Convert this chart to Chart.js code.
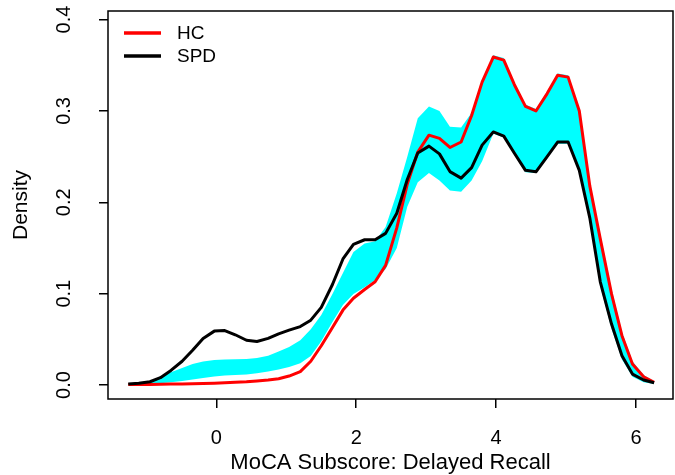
<!DOCTYPE html>
<html lang="en">
<head>
<meta charset="UTF-8">
<title>Density</title>
<script src="https://cdn.jsdelivr.net/npm/chart.js"></script>
<style>
    html, body { margin: 0; padding: 0; background: #ffffff; }
    #wrap { width: 675px; height: 475px; }
</style>
</head>
<body>
<div id="wrap"><canvas id="densityChart" width="675" height="475"></canvas></div>
<script>
    // density grid (x) and curves
    const xGrid = [-1.26, -1.11, -0.95, -0.80, -0.65, -0.49, -0.34, -0.19, -0.03, 0.12,
        0.27, 0.43, 0.58, 0.74, 0.89, 1.04, 1.20, 1.35, 1.50, 1.66,
        1.81, 1.96, 2.12, 2.27, 2.42, 2.58, 2.73, 2.88, 3.04, 3.19,
        3.34, 3.50, 3.65, 3.80, 3.96, 4.11, 4.26, 4.42, 4.57, 4.73,
        4.88, 5.03, 5.19, 5.34, 5.49, 5.65, 5.80, 5.95, 6.11, 6.26];

    const hcDensity = [0.0005, 0.0006, 0.0007, 0.0008, 0.001, 0.0011, 0.0013, 0.0016, 0.002, 0.0024,
        0.003, 0.0036, 0.0045, 0.0055, 0.0068, 0.0098, 0.0146, 0.026, 0.043, 0.063,
        0.082, 0.095, 0.1045, 0.113, 0.131, 0.172, 0.22, 0.255, 0.2735, 0.27,
        0.26, 0.266, 0.295, 0.3315, 0.359, 0.3556, 0.329, 0.305, 0.300, 0.319,
        0.339, 0.337, 0.300, 0.218, 0.16, 0.10, 0.054, 0.023, 0.009, 0.003];

    const spdDensity = [0.001, 0.002, 0.0036, 0.008, 0.016, 0.026, 0.038, 0.051, 0.059, 0.0596,
        0.055, 0.049, 0.0476, 0.051, 0.056, 0.060, 0.064, 0.071, 0.085, 0.11,
        0.138, 0.154, 0.159, 0.159, 0.166, 0.188, 0.225, 0.254, 0.2615, 0.253,
        0.2336, 0.2265, 0.238, 0.2626, 0.277, 0.2724, 0.254, 0.235, 0.2334, 0.25,
        0.266, 0.266, 0.235, 0.183, 0.113, 0.067, 0.032, 0.012, 0.0055, 0.0025];

    const bandUpper = [0.001, 0.002, 0.0045, 0.0088, 0.014, 0.0186, 0.023, 0.0257, 0.0274, 0.0279,
        0.0281, 0.0284, 0.0295, 0.032, 0.0367, 0.0416, 0.049, 0.061, 0.0766, 0.0996,
        0.1225, 0.1455, 0.155, 0.1575, 0.173, 0.21, 0.25, 0.292, 0.305, 0.30,
        0.2826, 0.282, 0.298, 0.333, 0.361, 0.358, 0.331, 0.307, 0.302, 0.321,
        0.341, 0.339, 0.302, 0.222, 0.165, 0.105, 0.058, 0.026, 0.011, 0.004];

    const bandLower = [0.0003, 0.0005, 0.001, 0.002, 0.003, 0.0045, 0.006, 0.0077, 0.0093, 0.0104,
        0.011, 0.0115, 0.013, 0.0148, 0.017, 0.0197, 0.0237, 0.0317, 0.048, 0.069,
        0.0875, 0.0996, 0.107, 0.115, 0.127, 0.15, 0.195, 0.222, 0.232, 0.224,
        0.213, 0.2115, 0.224, 0.245, 0.275, 0.271, 0.252, 0.233, 0.232, 0.248,
        0.264, 0.264, 0.233, 0.178, 0.108, 0.062, 0.028, 0.009, 0.003, 0.001];

    const xTicks = [0, 2, 4, 6];
    const yTicks = [0, 0.1, 0.2, 0.3, 0.4];
    const yTickLabels = ["0.0", "0.1", "0.2", "0.3", "0.4"];
    const seriesNames = ["HC", "SPD"];

    const FONT = "'Liberation Sans', Arial, sans-serif";

    function toPoints(ys) {
        return xGrid.map((x, i) => ({ x: x, y: ys[i] }));
    }

    // box, rotated y labels, axis titles and legend, R style
    const rDecor = {
        id: 'rDecor',
        afterDraw(chart) {
            const ctx = chart.ctx;
            const a = chart.chartArea;
            const ys = chart.scales.y;
            ctx.save();
            ctx.strokeStyle = '#000';
            ctx.lineWidth = 1.5;
            ctx.strokeRect(a.left, a.top, a.right - a.left, a.bottom - a.top);

            ctx.fillStyle = '#000';
            ctx.font = '20px ' + FONT;
            ctx.textAlign = 'center';
            ctx.textBaseline = 'middle';
            yTicks.forEach((v, i) => {
                ctx.save();
                ctx.translate(64, ys.getPixelForValue(v));
                ctx.rotate(-Math.PI / 2);
                ctx.fillText(yTickLabels[i], 0, 0);
                ctx.restore();
            });

            ctx.font = '21px ' + FONT;
            ctx.save();
            ctx.translate(21, (a.top + a.bottom) / 2);
            ctx.rotate(-Math.PI / 2);
            ctx.fillText('Density', 0, 0);
            ctx.restore();

            ctx.font = '22px ' + FONT;
            ctx.fillText('MoCA Subscore: Delayed Recall', (a.left + a.right) / 2, 463);

            // legend
            const colors = ['#ff0000', '#000000'];
            ctx.font = '19px ' + FONT;
            ctx.textAlign = 'left';
            ctx.lineWidth = 3.5;
            seriesNames.forEach((name, i) => {
                const y = 33 + i * 23;
                ctx.strokeStyle = colors[i];
                ctx.beginPath();
                ctx.moveTo(124, y);
                ctx.lineTo(161, y);
                ctx.stroke();
                ctx.fillText(name, 177, y + 1);
            });
            ctx.restore();
        }
    };

    new Chart(document.getElementById('densityChart'), {
        type: 'line',
        data: {
            datasets: [
                {
                    label: 'upper',
                    data: toPoints(bandUpper),
                    borderWidth: 0,
                    borderColor: 'rgba(0,0,0,0)',
                    backgroundColor: '#00ffff',
                    fill: '+1',
                    pointRadius: 0,
                    order: 3
                },
                {
                    label: 'lower',
                    data: toPoints(bandLower),
                    borderWidth: 0,
                    borderColor: 'rgba(0,0,0,0)',
                    fill: false,
                    pointRadius: 0,
                    order: 4
                },
                {
                    label: seriesNames[0],
                    data: toPoints(hcDensity),
                    borderColor: '#ff0000',
                    borderWidth: 3,
                    fill: false,
                    pointRadius: 0,
                    order: 2
                },
                {
                    label: seriesNames[1],
                    data: toPoints(spdDensity),
                    borderColor: '#000000',
                    borderWidth: 3,
                    fill: false,
                    pointRadius: 0,
                    order: 1
                }
            ]
        },
        options: {
            responsive: false,
            animation: false,
            events: [],
            layout: { padding: { top: 11, right: 2, left: 0, bottom: 0 } },
            elements: { line: { tension: 0, borderJoinStyle: 'round' } },
            plugins: {
                legend: { display: false },
                tooltip: { enabled: false }
            },
            scales: {
                x: {
                    type: 'linear',
                    min: -1.55,
                    max: 6.53,
                    afterFit(scale) { scale.height = 76; },
                    afterBuildTicks(scale) { scale.ticks = xTicks.map(v => ({ value: v })); },
                    grid: {
                        drawOnChartArea: false,
                        drawTicks: true,
                        tickLength: 9,
                        color: '#000',
                        lineWidth: 1.5
                    },
                    border: { display: false },
                    ticks: {
                        color: '#000',
                        padding: 18,
                        maxRotation: 0,
                        font: { family: FONT, size: 20 }
                    }
                },
                y: {
                    type: 'linear',
                    min: -0.0153,
                    max: 0.4094,
                    afterFit(scale) { scale.width = 108; },
                    afterBuildTicks(scale) { scale.ticks = yTicks.map(v => ({ value: v })); },
                    grid: {
                        drawOnChartArea: false,
                        drawTicks: true,
                        tickLength: 9,
                        color: '#000',
                        lineWidth: 1.5
                    },
                    border: { display: false },
                    ticks: { display: false }
                }
            }
        },
        plugins: [rDecor]
    });
</script>
</body>
</html>
